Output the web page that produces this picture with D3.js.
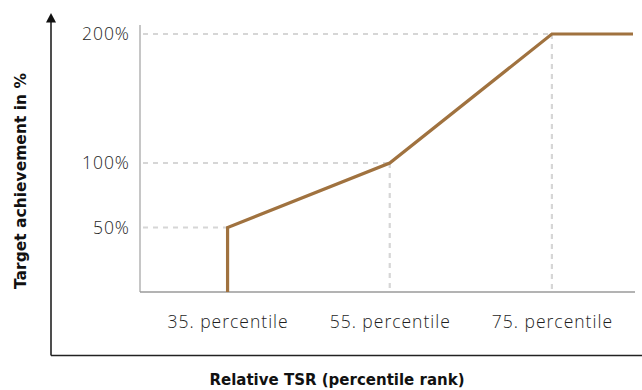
<!DOCTYPE html>
<html><head><meta charset="utf-8">
<script src="https://cdn.jsdelivr.net/npm/d3@7"></script>
<style>body{margin:0;background:#fff}svg{display:block}</style>
</head><body><svg id="c" width="642" height="390"></svg>
<script>
const percentiles = [35, 35, 55, 75, 85];
const achievement = [0, 50, 100, 200, 200];
const yTicks = [50, 100, 200];
const yTickLabels = ["50%", "100%", "200%"];
const xTicks = [35, 55, 75];
const xTickLabels = ["35. percentile", "55. percentile", "75. percentile"];
const refPoints = [{p:35, v:50}, {p:55, v:100}, {p:75, v:200}];

const svg = d3.select("#c");
const x = d3.scaleLinear().domain([24.2, 85]).range([140, 633]);
const y = d3.scaleLinear().domain([0, 200]).range([292, 34]);
const tickFont = "'Open Sans', sans-serif";
const titleFont = "'DejaVu Sans', sans-serif";

// outer axes
svg.append("line").attr("x1",51).attr("x2",51).attr("y1",20).attr("y2",355.5)
  .attr("stroke","#222").attr("stroke-width",1.6);
svg.append("line").attr("x1",51).attr("x2",642).attr("y1",355.5).attr("y2",355.5)
  .attr("stroke","#222").attr("stroke-width",1.6);
svg.append("path").attr("d","M51,13 L46,22.5 L56,22.5 Z").attr("fill","#111");

// inner axes
svg.append("line").attr("x1",140).attr("x2",140).attr("y1",25).attr("y2",292)
  .attr("stroke","#b3b3b3").attr("stroke-width",1.5);
svg.append("line").attr("x1",140).attr("x2",635).attr("y1",292).attr("y2",292)
  .attr("stroke","#9a9a9a").attr("stroke-width",1.5);

// dashed reference lines
const g = svg.append("g").attr("stroke","#d6d6d6").attr("stroke-width",2.2).attr("stroke-dasharray","5,5");
refPoints.forEach(d => {
  g.append("line").attr("x1",143).attr("x2",x(d.p)).attr("y1",y(d.v)).attr("y2",y(d.v));
  if (d.p !== 35) g.append("line").attr("x1",x(d.p)).attr("x2",x(d.p)).attr("y1",y(d.v)).attr("y2",291);
});

// main line
const pts = percentiles.map((p,i)=>[x(p), y(achievement[i])]);
svg.append("path").attr("d", d3.line()(pts)).attr("fill","none")
  .attr("stroke","#a0723f").attr("stroke-width",3.2).attr("stroke-linejoin","miter");

// tick labels
yTicks.forEach((t,i)=>{
  svg.append("text").attr("x",130).attr("y",y(t)).attr("dy","0.35em").attr("text-anchor","end")
    .attr("font-family",tickFont).attr("font-weight",300).attr("font-size",17.5).attr("letter-spacing",1)
    .attr("fill","#1e1e1e").text(yTickLabels[i]);
});
xTicks.forEach((t,i)=>{
  svg.append("text").attr("x",x(t)+0.5).attr("y",322).attr("dy","0.35em").attr("text-anchor","middle")
    .attr("font-family",tickFont).attr("font-weight",300).attr("font-size",17.5).attr("letter-spacing",1)
    .attr("fill","#1e1e1e").text(xTickLabels[i]);
});

// axis titles
svg.append("text").attr("transform","translate(21,181) rotate(-90)").attr("text-anchor","middle")
  .attr("dy","0.35em").attr("font-family",titleFont).attr("font-weight","bold").attr("font-size",15.5)
  .attr("fill","#111").text("Target achievement in %");
svg.append("text").attr("x",337).attr("y",380).attr("dy","0.35em").attr("text-anchor","middle")
  .attr("font-family",titleFont).attr("font-weight","bold").attr("font-size",15)
  .attr("fill","#111").text("Relative TSR (percentile rank)");
</script></body></html>
